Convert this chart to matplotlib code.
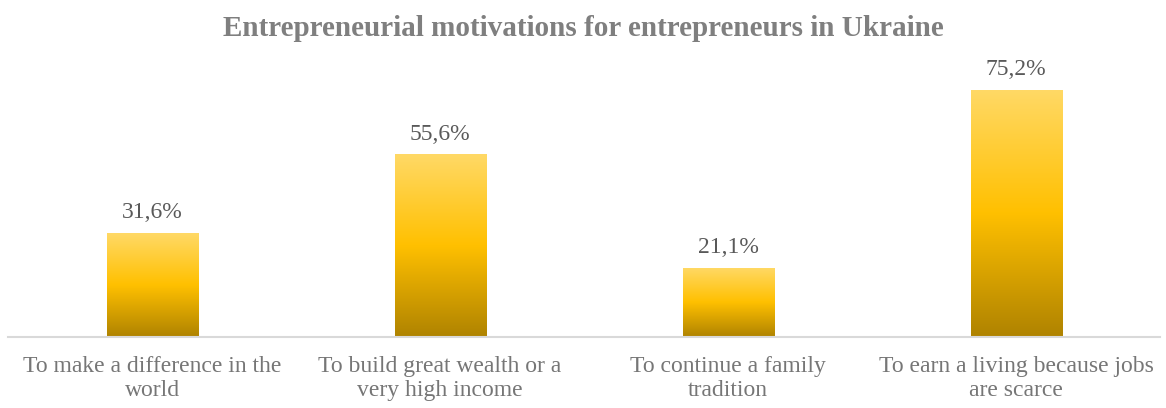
import matplotlib.pyplot as plt
import numpy as np
from matplotlib.colors import LinearSegmentedColormap

plt.rcParams['font.family'] = ['Liberation Serif', 'DejaVu Serif']

categories = [
    "To make a difference in the\nworld",
    "To build great wealth or a\nvery high income",
    "To continue a family\ntradition",
    "To earn a living because jobs\nare scarce",
]
values = [31.6, 55.6, 21.1, 75.2]
value_labels = ["31,6%", "55,6%", "21,1%", "75,2%"]

# gold gradient: dark at the base, bright in the middle, pale at the top
gold = LinearSegmentedColormap.from_list(
    "gold", [(0.0, "#AF8300"), (0.5, "#FFC000"), (1.0, "#FFD966")])

fig = plt.figure(figsize=(11.66, 4.08), dpi=100)
ax = fig.add_axes([0.0069, 0.174, 0.988, 0.6446])

x = np.arange(len(categories))
bars = ax.bar(x, values, width=0.316, color="none", edgecolor="none", zorder=2)

grad = np.linspace(0, 1, 256).reshape(-1, 1)
for bar in bars:
    x0, w, h = bar.get_x(), bar.get_width(), bar.get_height()
    im = ax.imshow(grad, cmap=gold, origin="lower", aspect="auto",
                   extent=[x0, x0 + w, 0, h], zorder=2)
    im.set_clip_path(bar)

for xi, v, lab in zip(x, values, value_labels):
    ax.annotate(lab, (xi, v), xytext=(0, 7), textcoords="offset points",
                ha="center", va="bottom", fontsize=17, color="#595959")

ax.set_xlim(-0.5, len(categories) - 0.5)
ax.set_ylim(0, 80)
ax.set_xticks(x)
ax.set_xticklabels(categories, fontsize=17, color="#767676", linespacing=1.15)
ax.tick_params(axis="x", length=0, pad=14)
ax.set_yticks([])
for side in ["top", "left", "right"]:
    ax.spines[side].set_visible(False)
ax.spines["bottom"].set_color("#D9D9D9")
ax.spines["bottom"].set_linewidth(1.5)

fig.text(0.5, 0.93, "Entrepreneurial motivations for entrepreneurs in Ukraine",
         ha="center", va="center", fontsize=21, fontweight="bold", color="#7F7F7F")

fig.savefig("out.png", dpi=100)
